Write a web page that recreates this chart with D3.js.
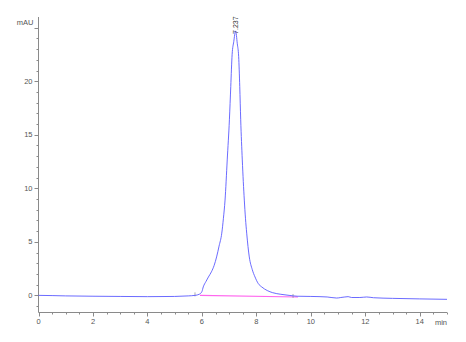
<!DOCTYPE html>
<html>
<head>
<meta charset="utf-8">
<script src="https://cdn.jsdelivr.net/npm/d3@7"></script>
<style>
  body { margin: 0; background: #fff; }
  svg { display: block; }
  text { font-family: "Liberation Sans", Arial, sans-serif; }
</style>
</head>
<body>
<svg id="chart" width="466" height="342"></svg>
<script>
// Chromatogram trace: retention time (min) and signal (mAU)
const times = [0, 0.5, 1, 2, 3, 4, 5, 5.5, 5.75, 5.9, 6.0, 6.05, 6.15, 6.24, 6.35, 6.45,
  6.54, 6.63, 6.73, 6.79, 6.85, 6.93, 7.01, 7.06, 7.11, 7.17, 7.237, 7.3, 7.35, 7.39,
  7.425, 7.483, 7.557, 7.6, 7.645, 7.74, 7.85, 7.95, 8.07, 8.195, 8.4, 8.6, 8.9, 9.2,
  9.5, 10, 10.6, 10.95, 11.1, 11.25, 11.37, 11.5, 11.8, 12.05, 12.3, 13, 14, 15];
const signal = [0, -0.02, -0.05, -0.08, -0.1, -0.12, -0.1, -0.05, 0, 0.1, 0.35, 0.79, 1.3, 1.72, 2.2, 2.8,
  3.59, 4.6, 5.81, 7.2, 8.9, 12.65, 16.4, 19.5, 22.5, 23.7, 24.7, 23.5, 22.3, 19.5,
  16.4, 12.65, 8.9, 7.2, 5.81, 3.59, 2.4, 1.72, 1.1, 0.79, 0.45, 0.25, 0.1, 0,
  -0.08, -0.1, -0.15, -0.25, -0.2, -0.15, -0.12, -0.2, -0.2, -0.15, -0.22, -0.28, -0.33, -0.37];

// Integration baseline (start, end) and peak label
const baseTimes = [5.93, 9.53];
const baseValues = [0, -0.15];
const peakTime = 7.237;
const peakHeight = 24.7;
const peakLabel = "7.237";

// Axis ticks
const xTicks = [0, 2, 4, 6, 8, 10, 12, 14];
const yTicks = [0, 5, 10, 15, 20];

const svg = d3.select("#chart");
const axisColour = "#8a8a8a";
const textColour = "#555";

const x = d3.scaleLinear().domain([0, 15]).range([38.5, 447]);
const y = d3.scaleLinear().domain([-1.6, 26]).range([312.5, 17]);

// Axes lines
svg.append("line")
  .attr("x1", x(0)).attr("x2", x(0))
  .attr("y1", y(-1.6)).attr("y2", y(26))
  .attr("stroke", axisColour).attr("stroke-width", 1);
svg.append("line")
  .attr("x1", x(0)).attr("x2", x(15))
  .attr("y1", y(-1.6)).attr("y2", y(-1.6))
  .attr("stroke", axisColour).attr("stroke-width", 1);

// Y ticks: minor every 1, major every 5
const yMinor = d3.range(-1, 26, 1);
svg.append("g").selectAll("line")
  .data(yMinor)
  .join("line")
  .attr("x1", d => x(0) - (d % 5 === 0 ? 4 : 2))
  .attr("x2", x(0))
  .attr("y1", d => Math.round(y(d)) + 0.5)
  .attr("y2", d => Math.round(y(d)) + 0.5)
  .attr("stroke", axisColour);
svg.append("g").selectAll("text")
  .data(yTicks)
  .join("text")
  .attr("x", x(0) - 6)
  .attr("y", d => y(d) + 2.5)
  .attr("text-anchor", "end")
  .attr("font-size", 7.5)
  .attr("fill", textColour)
  .text(d => d);
svg.append("text")
  .attr("x", x(0) - 5)
  .attr("y", 25)
  .attr("text-anchor", "end")
  .attr("font-size", 7.5)
  .attr("fill", textColour)
  .text("mAU");

// X ticks: minor every 0.5, major every 2
const xMinor = d3.range(0, 15.01, 0.5);
svg.append("g").selectAll("line")
  .data(xMinor)
  .join("line")
  .attr("x1", d => Math.round(x(d)) + 0.5)
  .attr("x2", d => Math.round(x(d)) + 0.5)
  .attr("y1", y(-1.6))
  .attr("y2", d => y(-1.6) + (d % 2 === 0 ? 4 : 2))
  .attr("stroke", axisColour);
svg.append("g").selectAll("text")
  .data(xTicks)
  .join("text")
  .attr("x", d => x(d))
  .attr("y", 324)
  .attr("text-anchor", "middle")
  .attr("font-size", 7.5)
  .attr("fill", textColour)
  .text(d => d);
svg.append("text")
  .attr("x", 441)
  .attr("y", 325)
  .attr("text-anchor", "middle")
  .attr("font-size", 7.5)
  .attr("fill", textColour)
  .text("min");

// Integration baseline (pink)
svg.append("line")
  .attr("x1", x(baseTimes[0])).attr("x2", x(baseTimes[1]))
  .attr("y1", y(baseValues[0])).attr("y2", y(baseValues[1]))
  .attr("stroke", "#ff66ee").attr("stroke-width", 1.2);
// Start / end markers
svg.append("g").selectAll("line")
  .data(baseTimes.map((t, i) => [t, baseValues[i]]))
  .join("line")
  .attr("x1", d => x(d[0]) - 5).attr("x2", d => x(d[0]) - 5)
  .attr("y1", d => y(d[1]) - 3).attr("y2", d => y(d[1]) + 1)
  .attr("stroke", "#999").attr("stroke-width", 0.8);

// Trace
const line = d3.line()
  .x(d => x(d[0]))
  .y(d => y(d[1]))
  .curve(d3.curveMonotoneX);
svg.append("path")
  .datum(times.map((t, i) => [t, signal[i]]))
  .attr("d", line)
  .attr("fill", "none")
  .attr("stroke", "#5050ff")
  .attr("stroke-width", 0.85);

// Peak label, rotated
svg.append("text")
  .attr("transform", `translate(${x(peakTime) + 2.5}, ${y(peakHeight) + 3}) rotate(-90)`)
  .attr("font-size", 7)
  .attr("fill", "#333")
  .text(peakLabel);
</script>
</body>
</html>
